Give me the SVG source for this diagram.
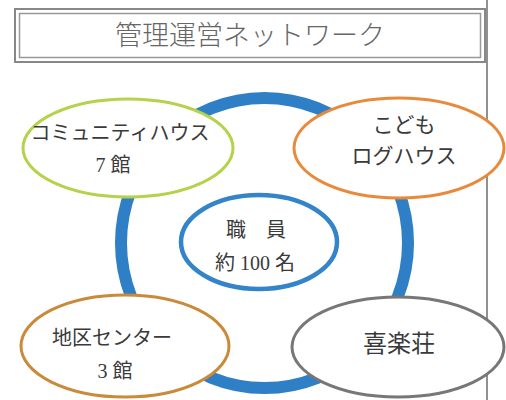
<svg xmlns="http://www.w3.org/2000/svg" width="506" height="400" viewBox="0 0 506 400">
<style>
.t{font-family:"Liberation Serif","Noto Sans CJK JP",serif;fill:#3a3a3a;text-anchor:middle}
.node{fill:#fff}
</style>
<rect width="506" height="400" fill="#fff"/>
<line x1="487" y1="0" x2="487" y2="400" stroke="#555" stroke-width="1.3"/>
<g id="title">
<rect x="15" y="9" width="470" height="53" fill="none" stroke="#888" stroke-width="2"/>
<rect x="19.5" y="13.5" width="461" height="44" fill="none" stroke="#999" stroke-width="1.5"/>
<text x="250" y="45" style="font-family:'Noto Sans CJK JP',sans-serif;font-size:27px;fill:#666;text-anchor:middle;font-weight:300">管理運営ネットワーク</text>
</g>
<g id="connectors">
<ellipse cx="264.5" cy="243" rx="143.5" ry="145" fill="none" stroke="#2f7fc6" stroke-width="12"/>
</g>
<g id="staff">
<ellipse class="node" cx="259" cy="242" rx="78" ry="47" stroke="#3384c8" stroke-width="4.5"/>
<text class="t" x="256" y="237" font-size="20">職　員</text>
<text class="t" x="255" y="270" font-size="20">約 100 名</text>
</g>
<g id="community">
<ellipse class="node" cx="128" cy="148" rx="105" ry="49" stroke="#b4d24a" stroke-width="3"/>
<text class="t" x="120" y="140" font-size="20">コミュニティハウス</text>
<text class="t" x="113" y="172" font-size="20">7 館</text>
</g>
<g id="kodomo">
<ellipse class="node" cx="399" cy="148" rx="105" ry="50" stroke="#e88a3c" stroke-width="3"/>
<text class="t" x="404" y="132" font-size="21">こども</text>
<text class="t" x="404" y="163" font-size="21">ログハウス</text>
</g>
<g id="chiku">
<ellipse class="node" cx="125" cy="346" rx="104" ry="51" stroke="#c98a3a" stroke-width="3"/>
<text class="t" x="112" y="345" font-size="20">地区センター</text>
<text class="t" x="115" y="378" font-size="20">3 館</text>
</g>
<g id="kirakuso">
<ellipse class="node" cx="398" cy="347" rx="106" ry="50" stroke="#777" stroke-width="3"/>
<text class="t" x="399" y="352" font-size="24">喜楽荘</text>
</g>
</svg>
